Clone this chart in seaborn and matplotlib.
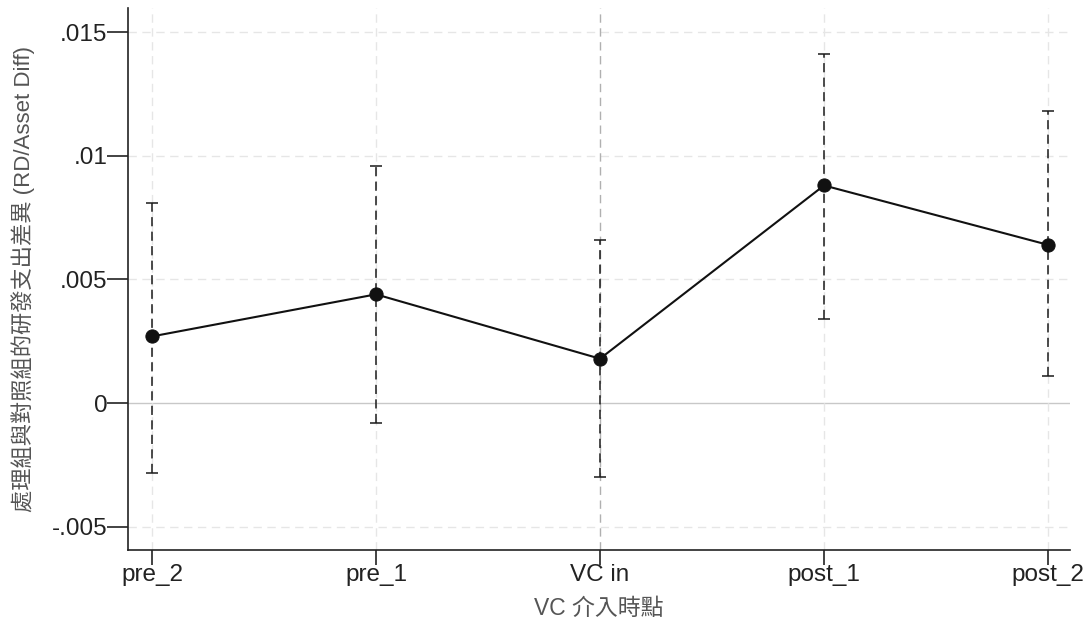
import matplotlib
matplotlib.use("Agg")
import matplotlib.pyplot as plt
import seaborn as sns
import numpy as np
import pandas as pd

periods = ["pre_2", "pre_1", "VC in", "post_1", "post_2"]
coef = [0.0027, 0.0044, 0.0018, 0.0088, 0.0064]
ci_low = [-0.0028, -0.0008, -0.0030, 0.0034, 0.0011]
ci_high = [0.0081, 0.0096, 0.0066, 0.0141, 0.0118]
yticks = [-0.005, 0, 0.005, 0.01, 0.015]
ytick_labels = ["-.005", "0", ".005", ".01", ".015"]

sns.set_theme(style="white")
plt.rcParams["font.family"] = ["Liberation Sans", "Noto Sans CJK TC", "DejaVu Sans"]

df = pd.DataFrame({"pos": np.arange(len(periods)), "coef": coef,
                   "lo": ci_low, "hi": ci_high})

fig = plt.figure(figsize=(10.91, 6.23), dpi=100)
ax = fig.add_axes([128/1091, 1-550/623, (1070-128)/1091, (550-8)/623])

# grid lines
for yv in yticks:
    if yv == 0:
        ax.axhline(0, color="#c8c8c8", lw=1.0, zorder=1)
    else:
        ax.axhline(yv, color="#e6e6e6", lw=1.0, ls=(0, (6, 4)), zorder=1)
for i, p in enumerate(periods):
    if p == "VC in":
        ax.axvline(i, color="#b0b0b0", lw=1.0, ls=(0, (6, 4)), zorder=1)
    else:
        ax.axvline(i, color="#e6e6e6", lw=1.0, ls=(0, (6, 4)), zorder=1)

# confidence intervals
yerr = np.vstack([df["coef"] - df["lo"], df["hi"] - df["coef"]])
eb = ax.errorbar(df["pos"], df["coef"], yerr=yerr, fmt="none", ecolor="#1a1a1a",
                 elinewidth=1.1, capsize=4, capthick=1.1, zorder=2)
eb[2][0].set_linestyle((0, (6, 3.5)))

sns.lineplot(data=df, x="pos", y="coef", color="#111111", lw=1.5, marker="o",
             markersize=9.5, markeredgecolor="#111111", markerfacecolor="#111111",
             ax=ax, zorder=3)

ax.set_xlim(-0.107, 4.098)
ax.set_ylim(-0.00593, 0.01597)
ax.set_xticks(range(len(periods)))
ax.set_xticklabels(periods)
ax.set_yticks(yticks)
ax.set_yticklabels(ytick_labels)
ax.tick_params(axis="both", which="major", direction="out", width=1.2,
               color="#222222", labelsize=17.5, labelcolor="#222222",
               bottom=True, left=True)
ax.tick_params(axis="y", length=15, pad=0)
ax.tick_params(axis="x", length=11, pad=-1)

for s in ["top", "right"]:
    ax.spines[s].set_visible(False)
for s in ["left", "bottom"]:
    ax.spines[s].set_color("#222222")
    ax.spines[s].set_linewidth(1.2)

ax.set_xlabel("VC 介入時點", fontsize=16.5, color="#555555", labelpad=8)
ax.set_ylabel("處理組與對照組的研發支出差異 (RD/Asset Diff)", fontsize=16,
              color="#555555")
ax.yaxis.set_label_coords(-0.099, 0.50)

fig.savefig("out.png", dpi=100, facecolor="white")
